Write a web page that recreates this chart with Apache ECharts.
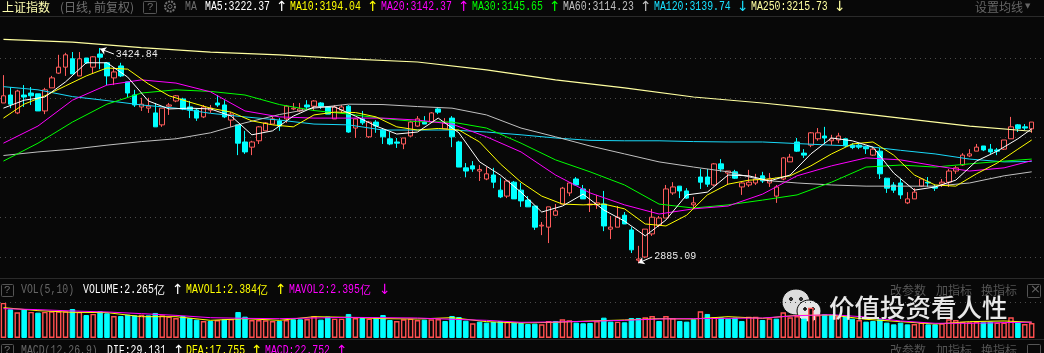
<!DOCTYPE html>
<html>
<head>
<meta charset="utf-8">
<title>上证指数</title>
<script src="https://cdn.jsdelivr.net/npm/echarts@6/dist/echarts.min.js"></script>
<style>
html, body { margin: 0; padding: 0; background: #080808; }
#kline { width: 1044px; height: 353px; }
</style>
</head>
<body>
<div id="kline"></div>
<script>
// 日K 开收低高
var opens = [3287,3307,3262,3307,3312,3310,3267,3325,3362,3377,
	3398,3355,3400,3377,3410,3388,3350,3380,3340,3307,
	3277,3274,3262,3232,3279,3292,3297,3277,3269,3252,
	3269,3287,3282,3244,3232,3189,3176,3192,3217,3234,
	3242,3247,3272,3267,3282,3279,3287,3277,3247,3269,
	3279,3224,3247,3202,3239,3219,3197,3189,3184,3204,
	3229,3239,3239,3272,3222,3249,3189,3124,3129,3116,
	3096,3106,3068,3053,3088,3068,3043,3028,2978,2975,
	3005,3033,3061,3096,3071,3031,3031,3033,2970,2975,
	3005,2968,2892,2900,2958,2980,2998,3061,3078,3066,
	3031,3101,3101,3081,3134,3111,3114,3076,3081,3086,
	3104,3086,3053,3096,3139,3189,3161,3181,3197,3204,
	3192,3194,3197,3181,3181,3176,3156,3166,3098,3081,
	3086,3036,3046,3078,3088,3076,3083,3088,3116,3131,
	3154,3166,3179,3171,3169,3171,3197,3232,3227,3222];
var closes = [3305,3284,3317,3302,3305,3267,3320,3350,3377,3408,
	3360,3398,3388,3403,3402,3355,3365,3355,3312,3282,
	3284,3279,3227,3274,3282,3305,3272,3269,3249,3277,
	3274,3282,3252,3259,3186,3164,3189,3227,3237,3247,
	3229,3279,3274,3272,3277,3292,3279,3259,3277,3277,
	3214,3247,3237,3239,3229,3202,3184,3186,3199,3239,
	3247,3234,3262,3264,3237,3202,3126,3116,3121,3120,
	3109,3088,3051,3091,3046,3041,3026,2975,2980,3026,
	3016,3073,3086,3081,3046,3033,3036,2978,2975,3000,
	2983,2918,2895,2970,3000,2998,3071,3076,3066,3048,
	3036,3088,3083,3134,3121,3116,3098,3086,3088,3096,
	3091,3096,3076,3149,3151,3166,3156,3212,3212,3199,
	3197,3204,3179,3175,3176,3172,3171,3109,3073,3068,
	3056,3046,3063,3096,3086,3073,3088,3116,3124,3156,
	3159,3176,3169,3164,3166,3194,3227,3223,3224,3239];
var lows = [3287,3274,3259,3277,3282,3267,3259,3325,3360,3355,
	3360,3355,3385,3362,3372,3332,3332,3352,3300,3277,
	3267,3262,3227,3227,3257,3289,3269,3249,3242,3249,
	3262,3277,3249,3227,3156,3159,3156,3184,3217,3234,
	3217,3237,3269,3264,3272,3267,3272,3259,3247,3262,
	3212,3199,3232,3199,3212,3184,3181,3174,3171,3202,
	3227,3234,3237,3259,3222,3176,3126,3101,3114,3091,
	3093,3073,3048,3048,3046,3026,3026,2968,2955,2935,
	3003,3033,3053,3081,3046,3013,3021,2965,2945,2975,
	2983,2910,2885,2897,2953,2975,2998,3056,3048,3046,
	3023,3071,3076,3078,3114,3083,3096,3056,3076,3081,
	3086,3076,3036,3093,3139,3164,3149,3176,3192,3186,
	3181,3186,3176,3171,3171,3159,3154,3096,3061,3061,
	3046,3033,3046,3076,3076,3066,3076,3076,3109,3129,
	3151,3166,3166,3159,3156,3169,3197,3214,3219,3212];
var highs = [3357,3327,3320,3332,3327,3310,3325,3355,3408,3413,
	3415,3415,3400,3405,3425,3390,3377,3388,3340,3320,
	3300,3300,3287,3274,3287,3307,3300,3292,3272,3282,
	3282,3307,3294,3264,3232,3217,3192,3229,3239,3252,
	3249,3282,3287,3287,3294,3294,3289,3279,3282,3282,
	3282,3249,3267,3242,3244,3222,3214,3199,3199,3242,
	3254,3254,3264,3277,3249,3254,3192,3136,3141,3131,
	3126,3124,3098,3093,3091,3086,3053,3028,2988,3026,
	3033,3076,3088,3101,3081,3071,3056,3066,3003,3028,
	3013,2975,2928,2970,3021,3003,3081,3088,3078,3073,
	3051,3121,3121,3136,3146,3116,3119,3088,3119,3109,
	3114,3111,3081,3151,3159,3199,3171,3214,3224,3227,
	3207,3212,3197,3186,3186,3179,3176,3174,3098,3088,
	3096,3063,3073,3098,3101,3081,3096,3121,3129,3161,
	3171,3184,3179,3184,3174,3194,3252,3234,3234,3239];
// 成交量(亿)
var volumes = [5.3,4.33,3.88,4.33,3.93,3.83,3.93,4.03,4.03,4.03,
	4.38,3.93,3.47,3.63,4.03,3.73,3.32,3.32,3.52,3.42,
	3.52,3.42,3.78,3.42,3.22,3.02,3.32,3.02,2.77,2.57,
	2.57,2.72,2.82,2.87,3.93,3.22,2.72,2.72,2.67,2.57,
	2.57,2.72,2.82,2.82,2.87,3.27,2.77,3.22,2.92,2.92,
	3.63,3.02,3.02,2.92,3.07,3.47,2.72,2.57,2.82,2.92,
	2.72,2.77,2.82,2.87,2.57,3.32,3.17,2.62,2.22,2.47,
	2.32,2.42,2.57,2.42,2.32,2.27,2.11,2.17,2.06,2.57,
	2.57,2.82,2.67,2.32,2.22,2.27,2.57,3.07,2.47,2.47,
	2.37,3.02,3.02,3.12,3.32,2.57,3.32,3.02,2.57,2.47,
	2.82,4.03,3.63,3.12,3.12,2.92,3.07,2.57,3.22,3.22,
	2.72,2.97,2.92,3.88,3.12,3.32,2.92,4.58,3.47,3.58,
	3.47,3.32,3.37,2.92,2.72,2.47,2.57,2.82,2.32,2.06,
	2.32,2.06,2.11,2.32,2.06,2.06,2.22,2.82,2.72,2.47,
	2.37,2.47,2.37,2.47,2.32,2.32,3.12,2.37,2.11,2.265];

// 均线读数，各自的取样日
var days3 = [0,3,6,9,12,15,18,21,24,27,30,33,36,39,42,45,48,51,54,57,60,63,66,69,72,75,78,81,84,87,90,93,96,99,102,105,108,111,114,117,120,123,126,129,132,135,138,141,144,147,149];
var days5 = [0,5,10,15,20,25,30,35,40,45,50,55,60,65,70,75,80,85,90,95,100,105,110,115,120,125,130,135,140,145,149];
var days10 = [0,10,20,30,40,50,60,70,80,90,100,110,120,130,140,149];
var ma5 = [3274,3294,3302,3340,3388,3388,3352,3292,3272,3274,3272,3254,3207,3217,3254,3277,3277,3254,3229,3209,3214,3249,3212,3139,3106,3063,3013,3028,3058,3018,2990,2953,2993,3056,3063,3106,3104,3091,3106,3159,3199,3192,3176,3111,3068,3076,3093,3141,3166,3197,3222];
var ma10 = [3249,3284,3305,3330,3355,3375,3372,3335,3305,3289,3274,3264,3242,3232,3227,3257,3264,3263,3252,3227,3219,3223,3219,3189,3134,3088,3053,3033,3031,3033,3021,2983,2978,3005,3056,3083,3093,3096,3104,3129,3159,3184,3189,3156,3106,3081,3078,3109,3136,3171,3194];
var ma20 = [3186,3229,3294,3332,3345,3337,3315,3267,3252,3249,3249,3249,3244,3234,3202,3164,3106,3061,3031,3008,3021,3028,3058,3104,3129,3149,3144,3129,3116,3124,3142];
var ma30 = [3141,3186,3239,3284,3312,3320,3316,3307,3283,3268,3259,3248,3240,3239,3224,3186,3144,3114,3081,3033,3023,3031,3043,3056,3088,3126,3131,3126,3134,3141,3146];
var ma60 = [3155,3164,3171,3181,3190,3197,3212,3237,3258,3274,3284,3283,3278,3274,3257,3224,3202,3179,3159,3139,3126,3114,3093,3086,3081,3078,3078,3078,3086,3104,3114];
var ma120 = [3328,3320,3303,3293,3282,3274,3261,3252,3244,3234,3232,3219,3219,3219,3214,3207,3199,3193,3192,3192,3190,3189,3189,3185,3181,3178,3168,3159,3146,3139,3140];
var ma250 = [3447,3440,3426,3415,3408,3398,3390,3370,3345,3325,3302,3287,3269,3249,3229,3216];
var mavol1 = [4.58,4.13,3.88,3.83,3.22,3.22,2.67,2.92,2.67,3.22,3.12,2.92,2.87,3.07,2.47,2.27,2.37,2.57,2.72,2.92,2.87,3.22,2.97,3.42,3.47,2.82,2.47,2.11,2.47,2.57,2.384];
var mavol2 = [4.43,4.28,4.08,3.93,3.68,3.42,3.07,2.97,2.92,3.02,3.12,3.07,3.02,2.82,2.67,2.37,2.42,2.52,2.67,2.87,2.92,2.97,3.02,3.37,3.52,3.17,2.57,2.22,2.22,2.32,2.395];

var RED = '#ff5c5c', CYAN = '#00ffff', BG = '#080808', GRAY = '#6e6e6e';

var days = [];
var kdata = [];
for(var i = 0; i < closes.length; i++) {
	days.push(i);
	kdata.push([opens[i], closes[i], lows[i], highs[i]]);
}
days.push(150); //右边留一格，虚线才能画到头

// 量柱颜色看收盘比昨收
var voldata = [];
for(var i = 0; i < volumes.length; i++) {
	var up = i == 0 || closes[i] >= closes[i - 1];
	voldata.push({
		value: volumes[i],
		itemStyle: up ? { color: BG, borderColor: '#ff5050', borderWidth: 1.4 } : { color: CYAN, borderColor: CYAN, borderWidth: 1 }
	});
}

function pairs(xs, ys) {
	var out = [];
	for(var i = 0; i < xs.length; i++) {
		out.push([xs[i], ys[i]]);
	}
	return out;
}

function maLine(name, xs, ys, color, xIdx, yIdx, w) {
	return {
		name: name,
		type: 'line',
		xAxisIndex: xIdx,
		yAxisIndex: yIdx,
		data: pairs(xs, ys),
		symbol: 'none',
		silent: true,
		lineStyle: { color: color, width: w || 1 }
	};
}

function txt(x, y, s, color, size, font, sx) {
	return {
		type: 'text',
		x: x,
		y: y,
		scaleX: sx || 1,
		silent: true,
		style: {
			text: s,
			fill: color,
			font: (size || 12) + 'px ' + (font || '"Liberation Mono", monospace'),
			textVerticalAlign: 'middle',
			verticalAlign: 'middle'
		}
	};
}
var CJK = '"Noto Sans CJK SC", sans-serif';
var ARROWF = '"DejaVu Sans", sans-serif';
var SX = 0.82;

function hline(y, color) {
	return { type: 'line', silent: true, shape: { x1: 0, y1: y + 0.5, x2: 1044, y2: y + 0.5 }, style: { stroke: color, lineWidth: 1 } };
}

function box(x, y, w, h) {
	return { type: 'rect', silent: true, shape: { x: x + 0.5, y: y + 0.5, width: w, height: h, r: 1 }, style: { fill: 'none', stroke: '#555', lineWidth: 1 } };
}

function ellipse(cx, cy, rx, ry, fill) {
	return { type: 'ellipse', silent: true, shape: { cx: cx, cy: cy, rx: rx, ry: ry }, style: { fill: fill, stroke: BG, lineWidth: 1 } };
}

var marks = [
	hline(16, '#2a2a2a'), hline(278, '#2a2a2a'), hline(339, '#2a2a2a'),
	// 主图标题
	txt(2, 7, '上证指数', '#ffffb0', 12, CJK),
	txt(60, 7, '(日线, 前复权)', '#707070', 12, CJK),
	box(143, 1, 13, 12), txt(147, 7, '?', GRAY, 11),
	{ type: 'circle', silent: true, shape: { cx: 170, cy: 6.5, r: 5 }, style: { fill: 'none', stroke: GRAY, lineWidth: 2, lineDash: [2, 1] } },
	{ type: 'circle', silent: true, shape: { cx: 170, cy: 6.5, r: 2 }, style: { fill: 'none', stroke: GRAY, lineWidth: 1 } },
	txt(185, 7, 'MA', GRAY, 12, null, SX),
	txt(205, 7, 'MA5:3222.37', '#ffffff', 12, null, SX), txt(276, 7, '↑', '#ffffff', 14, ARROWF),
	txt(290, 7, 'MA10:3194.04', '#ffff00', 12, null, SX), txt(367, 7, '↑', '#ffff00', 14, ARROWF),
	txt(381, 7, 'MA20:3142.37', '#ff00ff', 12, null, SX), txt(458, 7, '↑', '#ff00ff', 14, ARROWF),
	txt(472, 7, 'MA30:3145.65', '#00ff00', 12, null, SX), txt(549, 7, '↑', '#00ff00', 14, ARROWF),
	txt(563, 7, 'MA60:3114.23', '#c0c0c0', 12, null, SX), txt(640, 7, '↑', '#c0c0c0', 14, ARROWF),
	txt(654, 7, 'MA120:3139.74', '#19e0ff', 12, null, SX), txt(737, 7, '↓', '#19e0ff', 14, ARROWF),
	txt(751, 7, 'MA250:3215.73', '#ffffa0', 12, null, SX), txt(834, 7, '↓', '#ffffa0', 14, ARROWF),
	txt(975, 7, '设置均线', '#666666', 12, CJK), txt(1025, 6, '▼', '#666666', 7, ARROWF),
	// 成交量标题
	box(1, 284, 12, 12), txt(4, 290, '?', GRAY, 11),
	txt(21, 290, 'VOL(5,10)', '#666666', 12, null, SX),
	txt(83, 290, 'VOLUME:2.265', '#ffffff', 12, null, SX), txt(154, 290, '亿', '#ffffff', 11, CJK), txt(172, 290, '↑', '#ffffff', 14, ARROWF),
	txt(186, 290, 'MAVOL1:2.384', '#ffff00', 12, null, SX), txt(257, 290, '亿', '#ffff00', 11, CJK), txt(275, 290, '↑', '#ffff00', 14, ARROWF),
	txt(289, 290, 'MAVOL2:2.395', '#ff00ff', 12, null, SX), txt(360, 290, '亿', '#ff00ff', 11, CJK), txt(379, 290, '↓', '#ff00ff', 14, ARROWF),
	txt(890, 290, '改参数', '#555555', 12, CJK), txt(936, 290, '加指标', '#555555', 12, CJK), txt(981, 290, '换指标', '#555555', 12, CJK),
	box(1027, 284, 13, 13), txt(1030, 290, '×', '#666666', 13, ARROWF),
	// MACD标题，只露出一半
	box(1, 344, 12, 12), txt(4, 350, '?', GRAY, 11),
	txt(21, 351, 'MACD(12,26,9)', '#666666', 12, null, SX),
	txt(107, 351, 'DIF:29.131', '#ffffff', 12, null, SX), txt(173, 351, '↑', '#ffffff', 14, ARROWF),
	txt(186, 351, 'DEA:17.755', '#ffff00', 12, null, SX), txt(251, 351, '↑', '#ffff00', 14, ARROWF),
	txt(265, 351, 'MACD:22.752', '#ff00ff', 12, null, SX), txt(336, 351, '↑', '#ff00ff', 14, ARROWF),
	txt(890, 350, '改参数', '#555555', 12, CJK), txt(936, 350, '加指标', '#555555', 12, CJK), txt(981, 350, '换指标', '#555555', 12, CJK),
	box(1027, 344, 13, 13),
	// 水印
	ellipse(796, 302, 14, 13, '#dcdcdc'),
	ellipse(809, 311, 12, 11, '#e6e6e6'),
	ellipse(791, 299, 1.6, 1.6, '#333'), ellipse(801, 299, 1.6, 1.6, '#333'),
	ellipse(805, 309, 1.4, 1.4, '#333'), ellipse(813, 309, 1.4, 1.4, '#333'),
	{
		type: 'text', x: 829, y: 307, silent: true, z: 10,
		style: {
			text: '价值投资看人性',
			fill: '#e8e8e8',
			font: '500 25.5px ' + CJK,
			verticalAlign: 'middle',
			textVerticalAlign: 'middle',
			shadowColor: '#000',
			shadowBlur: 3,
			shadowOffsetX: 1,
			shadowOffsetY: 1
		}
	}
];

var chart = echarts.init(document.getElementById('kline'), null, { renderer: 'canvas' });
chart.setOption({
	animation: false,
	backgroundColor: BG,
	tooltip: { show: false },
	legend: { show: false },
	grid: [
		{ left: -1.86, top: 18.2, width: 1043.9, height: 278.6, containLabel: false },
		{ left: -1.86, top: 302.5, width: 1043.9, height: 35.5, containLabel: false }
	],
	xAxis: [
		{ type: 'category', gridIndex: 0, data: days, axisLine: { show: false }, axisTick: { show: false }, axisLabel: { show: false }, splitLine: { show: false } },
		{ type: 'category', gridIndex: 1, data: days, axisLine: { show: false }, axisTick: { show: false }, axisLabel: { show: false }, splitLine: { show: false } }
	],
	yAxis: [
		{
			type: 'value', gridIndex: 0, min: 2800, max: 3500, interval: 100, axisLine: { show: false }, axisTick: { show: false }, axisLabel: { show: false },
			splitLine: { show: true, showMinLine: false, showMaxLine: false, lineStyle: { color: '#4a4a4a', width: 1, type: [1, 4] } }
		},
		{
			type: 'value', gridIndex: 1, min: 0, max: 5.36, interval: 5.36, axisLine: { show: false }, axisTick: { show: false }, axisLabel: { show: false },
			splitLine: { show: true, showMinLine: false, lineStyle: { color: '#4a4a4a', width: 1, type: [1, 4] } }
		}
	],
	series: [
		{
			name: '上证指数',
			type: 'candlestick',
			xAxisIndex: 0,
			yAxisIndex: 0,
			data: kdata,
			barWidth: 5,
			silent: true,
			itemStyle: { color: BG, color0: CYAN, borderColor: RED, borderColor0: CYAN, borderWidth: 1 },
			markPoint: {
				silent: true,
				symbol: 'circle',
				symbolSize: 0,
				label: { show: true, position: 'right', distance: 2, color: '#e8e8e8', fontSize: 10, fontFamily: '"Liberation Mono", monospace' },
				data: [
					{ name: '高', coord: [16, 3410], value: 3424.84, label: { formatter: '3424.84' } },
					{ name: '低', coord: [94, 2902], value: 2885.09, label: { formatter: '2885.09' } }
				]
			},
			markLine: {
				silent: true,
				symbol: ['arrow', 'none'],
				symbolSize: 6,
				label: { show: false },
				lineStyle: { color: '#ffffff', width: 1, type: 'solid' },
				data: [
					[{ coord: [14, 3423] }, { coord: [16, 3410] }],
					[{ coord: [92, 2885] }, { coord: [94, 2900] }]
				]
			}
		},
		maLine('MA250', days10, ma250, '#ffffa0', 0, 0, 1.2),
		maLine('MA120', days5, ma120, '#19d8f8', 0, 0),
		maLine('MA60', days5, ma60, '#c0c0c0', 0, 0),
		maLine('MA30', days5, ma30, '#00ff00', 0, 0),
		maLine('MA20', days5, ma20, '#ff00ff', 0, 0),
		maLine('MA10', days3, ma10, '#ffff00', 0, 0),
		maLine('MA5', days3, ma5, '#ffffff', 0, 0),
		{
			name: 'VOLUME',
			type: 'bar',
			xAxisIndex: 1,
			yAxisIndex: 1,
			data: voldata,
			barWidth: 5.5,
			silent: true
		},
		maLine('MAVOL1', days5, mavol1, '#ffff00', 1, 1),
		maLine('MAVOL2', days5, mavol2, '#ff00ff', 1, 1)
	],
	graphic: { elements: marks }
});
</script>
</body>
</html>
